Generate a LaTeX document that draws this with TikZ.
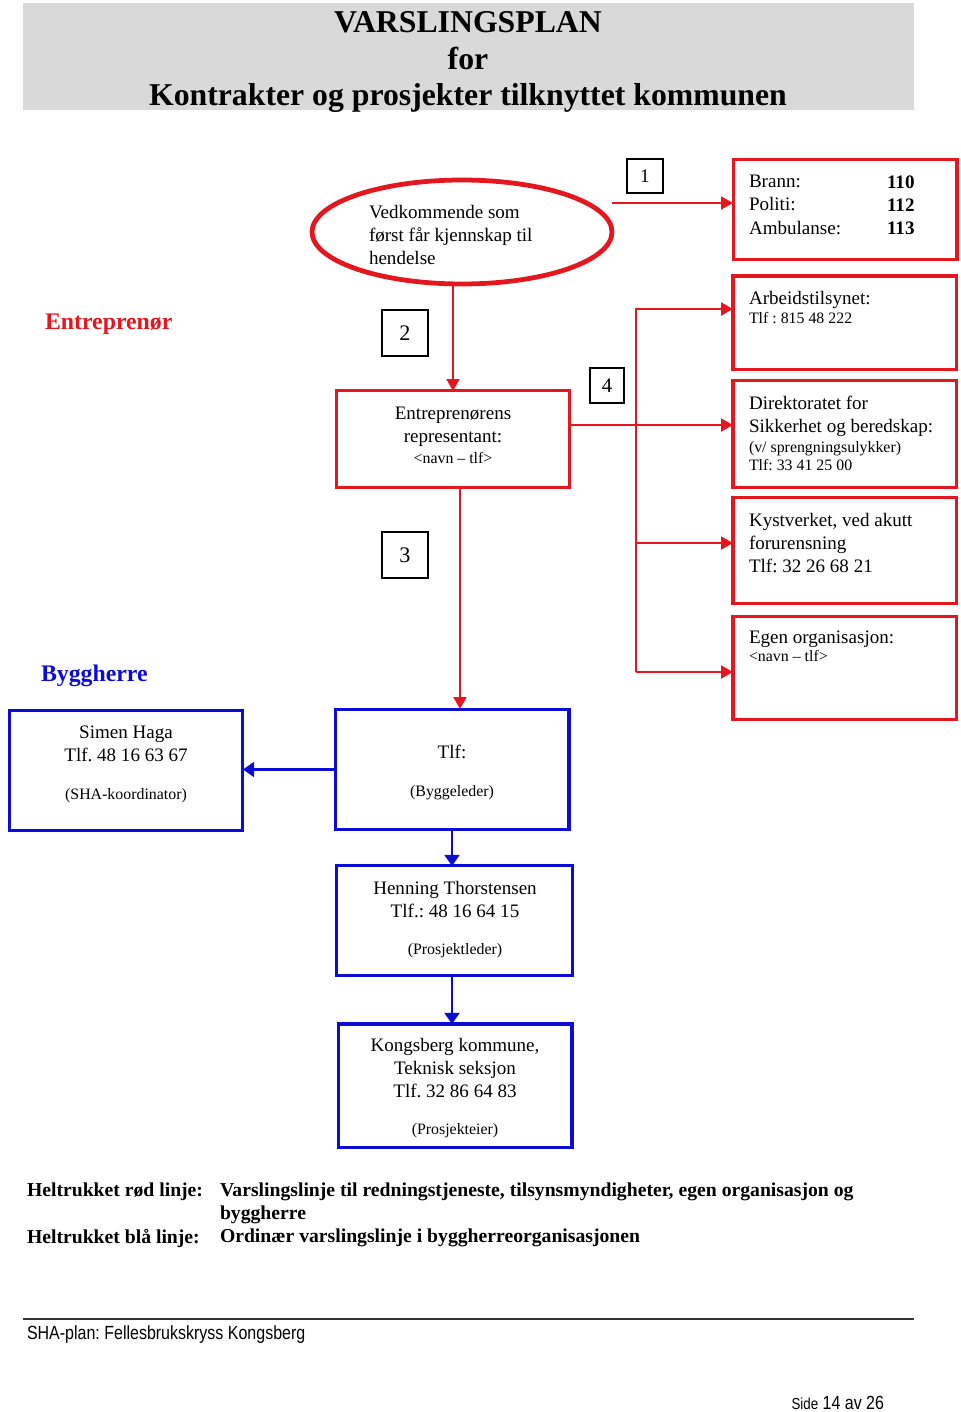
\documentclass[tikz,border=0pt]{standalone}
\usepackage{fontspec}
\setmainfont{Liberation Serif}
\newfontfamily\footfont[FakeStretch=0.84]{Liberation Sans}
\usepackage{tikz}
\usetikzlibrary{arrows.meta}
\usetikzlibrary{positioning}
\usetikzlibrary{shapes.geometric}
\definecolor{vred}{RGB}{228,22,30}
\definecolor{vblue}{RGB}{12,12,215}
\frenchspacing

\begin{document}
\begin{tikzpicture}[x=0.63pt,y=-0.63pt,
  every node/.style={inner sep=0pt,outer sep=0pt,font=\fontsize{12}{14.5}\selectfont},
  rbox/.style={draw=vred,line width=1.9pt},
  bbox/.style={draw=vblue,line width=1.9pt},
  nbox/.style={draw,line width=0.9pt},
  rarr/.style={draw=vred,line width=1.7pt,-{Triangle[length=7.5pt,width=8pt]}},
  barr/.style={draw=vblue,line width=1.3pt,-{Triangle[length=7pt,width=9.5pt]}},
  txt/.style={anchor=north west,align=left},
  bold/.style={font=\bfseries\fontsize{12}{14.5}\selectfont},
  legend/.style={anchor=north west,align=left,font=\bfseries\fontsize{12.4}{14.5}\selectfont}]
  \useasboundingbox (0,0) rectangle (960,1412);

  % title
  \fill[black!15] (23,3) rectangle (914,110);
  \node (title) at (468,62) [align=center,font=\bfseries\fontsize{20}{22.7}\selectfont] {VARSLINGSPLAN\\for\\Kontrakter og prosjekter tilknyttet kommunen};

  \node (start) at (462,232) [ellipse,draw=vred,line width=3pt,minimum width=189pt,minimum height=65.5pt] {};
  \node (start-t) at (369,205) [txt] {Vedkommende som\\først får kjennskap til\\hendelse};

  \node (n1) at (645,176) [nbox,minimum width=22.7pt,minimum height=21.4pt] {1};
  \node (n2) at (405,333) [nbox,minimum size=29pt,font=\fontsize{14}{16}\selectfont] {2};
  \node (n3) at (405,555) [nbox,minimum size=29pt,font=\fontsize{14}{16}\selectfont] {3};
  \node (n4) at (607,385.5) [nbox,minimum width=21.4pt,minimum height=22pt,font=\fontsize{13}{15}\selectfont] {4};

  \node (entrlab) at (45,329) [anchor=base west,text=vred,font=\bfseries\fontsize{15}{17}\selectfont] {Entreprenør};
  \node (bygglab) at (41,681) [anchor=base west,text=vblue,font=\bfseries\fontsize{15}{17}\selectfont] {Byggherre};

  % red boxes
  \node (brann) at (845,209.5) [rbox,minimum width=141.1pt,minimum height=62.4pt] {};
  \node (brann-t) at (749,175.5) [txt] {Brann:\\Politi:\\Ambulanse:};
  \node (brann-n) at (887,175.5) [txt,bold] {110\\112\\113};

  \node (arb) at (844.5,322.5) [rbox,minimum width=140.5pt,minimum height=58.6pt] {};
  \node (arb-t) at (749,291) [txt] {Arbeidstilsynet:\\[-2.5pt]\fontsize{10}{11.3}\selectfont Tlf : 815 48 222};

  \node (dir) at (844.5,434) [rbox,minimum width=140.5pt,minimum height=66.8pt] {};
  \node (dir-t) at (749,396) [txt] {Direktoratet for\\Sikkerhet og beredskap:\\[-2pt]\fontsize{10}{12}\selectfont (v/ sprengningsulykker)\\[-3.2pt]\fontsize{10}{11.3}\selectfont Tlf: 33 41 25 00};

  \node (kyst) at (844.5,550.5) [rbox,minimum width=140.5pt,minimum height=66.2pt] {};
  \node (kyst-t) at (749,513) [txt] {Kystverket, ved akutt\\forurensning\\Tlf: 32 26 68 21};

  \node (egen) at (844.5,668) [rbox,minimum width=140.5pt,minimum height=65.5pt] {};
  \node (egen-t) at (749,631) [txt] {Egen organisasjon:\\[-3pt]\fontsize{10}{11.3}\selectfont <navn – tlf>};

  \node (entr) at (453,439) [rbox,minimum width=146.2pt,minimum height=60.5pt] {};
  \node (entr-t) at (453,407) [anchor=north,align=center] {Entreprenørens\\representant:\\[-1pt]\fontsize{10}{12.6}\selectfont <navn – tlf>};

  % blue boxes
  \node (simen) at (126,770.5) [bbox,minimum width=147.4pt,minimum height=76.2pt] {};
  \node (simen-t) at (126,726) [anchor=north,align=center] {Simen Haga\\Tlf. 48 16 63 67\\[9.5pt]\fontsize{10}{11.5}\selectfont (SHA-koordinator)};

  \node (bygg) at (452,769.5) [bbox,minimum width=147.4pt,minimum height=76.2pt] {};
  \node (bygg-t) at (452,745) [anchor=north,align=center] {Tlf:\\[9.5pt]\fontsize{10}{11.5}\selectfont (Byggeleder)};

  \node (henning) at (454.5,920.5) [bbox,minimum width=148.1pt,minimum height=68.7pt] {};
  \node (henning-t) at (455,881) [anchor=north,align=center] {Henning Thorstensen\\Tlf.: 48 16 64 15\\[9pt]\fontsize{10}{11.5}\selectfont (Prosjektleder)};

  \node (kongs) at (455,1085.5) [bbox,minimum width=147.4pt,minimum height=77.5pt] {};
  \node (kongs-t) at (455,1038) [anchor=north,align=center] {Kongsberg kommune,\\Teknisk seksjon\\Tlf. 32 86 64 83\\[9pt]\fontsize{10}{11.5}\selectfont (Prosjekteier)};

  % red lines
  \coordinate (c1) at (612,203);
  \coordinate (c4) at (569,425);
  \coordinate (t1) at (636,309);
  \coordinate (t2) at (636,543);
  \coordinate (t3) at (636,672);
  \draw[rarr] (c1) -- (c1 -| brann.west);
  \draw[rarr] (entr.north |- start.south) -- (entr.north);
  \draw[rarr] ([xshift=4.4pt]entr.south) -- ([xshift=4.4pt]entr.south |- bygg.north);
  \draw[rarr] (c4) -- (c4 -| dir.west);
  \draw[rarr] (t3) -- (t1) -- (t1 -| arb.west);
  \draw[rarr] (t2) -- (t2 -| kyst.west);
  \draw[rarr] (t3) -- (t3 -| egen.west);

  % blue lines
  \draw[barr] (bygg.west) -- (bygg.west -| simen.east);
  \draw[barr] (bygg.south) -- (bygg.south |- henning.north);
  \draw[barr] (henning.south -| bygg.south) -- (bygg.south |- kongs.north);

  % legend
  \node (leg1) at (27,1183) [legend] {Heltrukket rød linje:};
  \node (leg2) at (27,1229) [legend] {Heltrukket blå linje:};
  \node (leg3) at (220,1183) [legend] {Varslingslinje til redningstjeneste, tilsynsmyndigheter, egen organisasjon og\\byggherre\\Ordinær varslingslinje i byggherreorganisasjonen};

  % footer
  \draw[line width=1.3pt,black!80] (23,1319) -- (914,1319);
  \node (foot) at (27,1339) [anchor=base west,font=\footfont\fontsize{12}{14}\selectfont] {SHA-plan: Fellesbrukskryss Kongsberg};
  \node (side) at (884,1409) [anchor=base east,font=\footfont\fontsize{12}{14}\selectfont] {{\fontsize{10}{12}\selectfont Side} 14 av 26};
\end{tikzpicture}
\end{document}
